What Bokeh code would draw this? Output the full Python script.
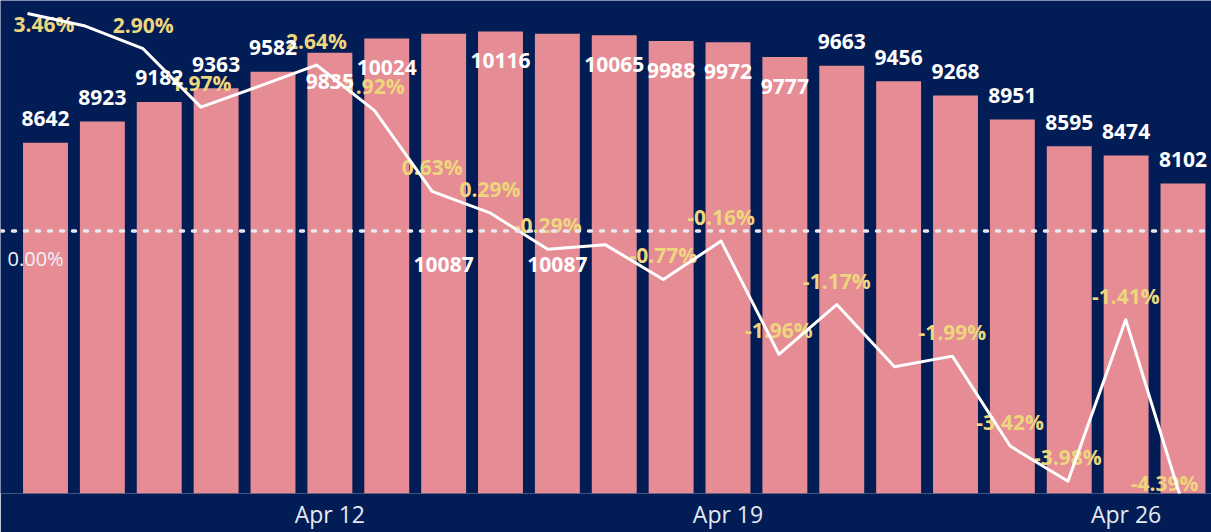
import datetime as dt
from bokeh.plotting import figure
from bokeh.models import Range1d, ColumnDataSource, Span, DaysTicker, DatetimeTickFormatter
from bokeh.core.properties import value
from bokeh.embed import file_html
from bokeh.resources import INLINE

# ---------------- data ----------------
first_day = dt.datetime(2020, 4, 7)
dates = [first_day + dt.timedelta(days=i) for i in range(21)]
counts = [8642, 8923, 9182, 9363, 9582, 9835, 10024, 10087, 10116, 10087, 10065,
          9988, 9972, 9777, 9663, 9456, 9268, 8951, 8595, 8474, 8102]
pct_change = [3.46, 3.26, 2.90, 1.97, 2.30, 2.64, 1.92, 0.63, 0.29, -0.29, -0.22,
              -0.77, -0.16, -1.96, -1.17, -2.16, -1.99, -3.42, -3.98, -1.41, -4.39]
pct_labels = ["%.2f%%" % v for v in pct_change]

# ---------------- layout / style ----------------
BG = "#021d55"
BAR = "#e68c94"
PCT_COL = "#edd67d"
FONT = value("Open Sans")
DAY = dt.timedelta(days=1)
BAR_BASE = 3980
LX0, LX1 = -0.4671, 20.484

hidden_pct = {1, 4, 10, 15}          # labels hidden by the original's overlap logic
bar_label_mode = ["out"] * 5 + ["in", "in", "mid", "in", "mid", "in", "in", "in", "in"] + ["out"] * 7

p = figure(width=1211, height=532, x_axis_type="datetime",
           output_backend="svg", toolbar_location=None,
           x_range=Range1d(first_day - 0.7912 * DAY, first_day + 20.5011 * DAY),
           y_range=Range1d(3993.7, 10526.3),
           min_border_left=0, min_border_right=0, min_border_top=0, min_border_bottom=38,
           y_axis_location=None)
p.extra_x_ranges = {"lx": Range1d(LX0, LX1)}
p.extra_y_ranges = {"pct": Range1d(-4.1746, 3.6667)}

p.background_fill_color = BG
p.border_fill_color = BG
p.outline_line_color = None
p.xgrid.visible = False
p.ygrid.visible = False

ax = p.xaxis[0]
ax.ticker = DaysTicker(days=[5, 12, 19, 26])
ax.formatter = DatetimeTickFormatter(days="%b %d", months="%b %d")
ax.axis_line_color = None
ax.major_tick_line_color = None
ax.minor_tick_line_color = None
ax.major_tick_out = 0
ax.major_tick_in = 0
ax.minor_tick_out = 0
ax.major_label_text_color = "#e4e8f2"
ax.major_label_text_font = "Open Sans"
ax.major_label_text_font_size = "23px"
ax.major_label_standoff = 4

# bars
src = ColumnDataSource(dict(date=dates, count=counts))
p.vbar(x="date", top="count", bottom=BAR_BASE, width=0.79 * 86400000, source=src,
       fill_color=BAR, line_color=None)

# zero reference line
p.add_layout(Span(location=0, dimension="width", y_range_name="pct",
                  line_color="#e8e8ee", line_width=3.5, line_dash="3 9", line_cap="round"))

# percent labels
idx = list(range(len(pct_change)))
shown = [i for i in idx if i not in hidden_pct]
aligns, xoffs, yoffs = [], [], []
for i in shown:
    if i == 0:      # no room above: placed below, pushed inside the left edge
        aligns.append("left"); xoffs.append(-14); yoffs.append(11)
    elif i == len(idx) - 1:
        aligns.append("right"); xoffs.append(15); yoffs.append(-24)
    else:
        aligns.append("center"); xoffs.append(0); yoffs.append(-24)
psrc = ColumnDataSource(dict(x=shown, y=[pct_change[i] for i in shown],
                             t=[pct_labels[i] for i in shown], a=aligns, xo=xoffs, yo=yoffs))
p.text(x="x", y="y", text="t", source=psrc, x_range_name="lx", y_range_name="pct",
       text_align="a", x_offset="xo", y_offset="yo", text_baseline="middle",
       text_color=PCT_COL, text_font=FONT, text_font_style="bold", text_font_size="21px")

# line
p.line(x=idx, y=pct_change, x_range_name="lx", y_range_name="pct",
       line_color="white", line_width=3, line_join="round")

# zero label
p.text(x=[LX0], y=[0], text=["0.00%"], x_range_name="lx", y_range_name="pct",
       x_offset=7, y_offset=27, text_align="left", text_baseline="middle",
       text_color="#f2f2fa", text_font=FONT, text_font_size="20px")

# bar labels
ly, lo = [], []
for c, m in zip(counts, bar_label_mode):
    if m == "out":
        ly.append(c); lo.append(-24)
    elif m == "in":
        ly.append(c); lo.append(29)
    else:
        ly.append((c + BAR_BASE) / 2); lo.append(0)
bsrc = ColumnDataSource(dict(x=dates, y=ly, t=[str(c) for c in counts], yo=lo))
p.text(x="x", y="y", text="t", source=bsrc, y_offset="yo",
       text_align="center", text_baseline="middle",
       text_color="white", text_font=FONT, text_font_style="bold", text_font_size="21px")

html = file_html(p, INLINE)
html = html.replace("<body>", '<body style="background-color:%s;">' % BG, 1)
open("out.html", "w").write(html)
